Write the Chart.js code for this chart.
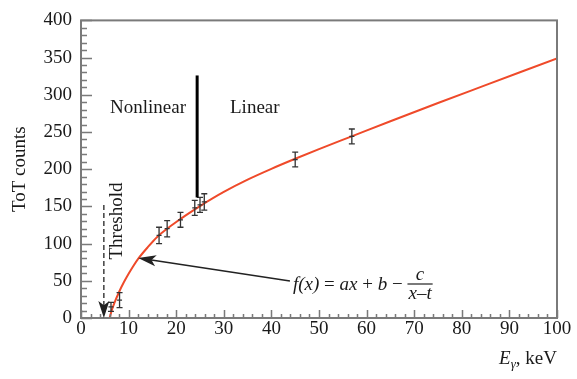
<!DOCTYPE html>
<html>
<head>
<meta charset="utf-8">
<script src="https://cdn.jsdelivr.net/npm/chart.js@4.4.0/dist/chart.umd.min.js"></script>
<style>
  html, body { margin: 0; padding: 0; background: #ffffff; }
  #c { display: block; }
</style>
</head>
<body>
<canvas id="c" width="577" height="379"></canvas>
<script>
// ---- data ----
const energy   = [6.3, 8.1, 16.4, 18.1, 20.9, 23.9, 25.0, 25.9, 45.0, 56.9];   // keV
const counts   = [15, 24, 111, 120, 132, 148, 152, 156, 213, 244];            // ToT counts
const countErr = [6, 10, 11, 11, 10, 10, 10, 11, 10, 10];

// fitted curve f(x) = ax + b - c/(x - t)
const fitX = [6, 6.5, 7, 8, 9, 10, 11, 12, 14, 16, 18, 20, 22, 25, 30, 35, 40, 45, 50, 57, 65, 75, 85, 100];
const fitY = [0, 11, 20, 35, 48, 59.5, 70, 79.5, 95, 109, 119.5, 129, 138, 150.5, 169.5, 186, 200.5, 214, 227, 244.5, 264.5, 289, 313, 349];

const xTicks = [0, 10, 20, 30, 40, 50, 60, 70, 80, 90, 100];
const yTicks = [0, 50, 100, 150, 200, 250, 300, 350, 400];

const FONT = '"Liberation Serif", "DejaVu Serif", serif';
const TXT = '#1a1a1a';
const AXC = '#7a7a7a';

const fitPts = fitX.map((x, i) => ({ x: x, y: fitY[i] }));
const dataPts = energy.map((x, i) => ({ x: x, y: counts[i], e: countErr[i] }));

function drawRun(ctx, parts, x, y, size) {
  for (const p of parts) {
    ctx.font = (p[1] ? 'italic ' : '') + size + 'px ' + FONT;
    ctx.fillText(p[0], x, y);
    x += ctx.measureText(p[0]).width;
  }
  return x;
}
function runWidth(ctx, parts, size) {
  let w = 0;
  for (const p of parts) {
    ctx.font = (p[1] ? 'italic ' : '') + size + 'px ' + FONT;
    w += ctx.measureText(p[0]).width;
  }
  return w;
}
function arrowHead(ctx, x1, y1, x2, y2, len, half) {
  const ang = Math.atan2(y2 - y1, x2 - x1);
  ctx.beginPath();
  ctx.moveTo(x2, y2);
  ctx.lineTo(x2 - len * Math.cos(ang) + half * Math.sin(ang), y2 - len * Math.sin(ang) - half * Math.cos(ang));
  ctx.lineTo(x2 - len * Math.cos(ang) * 0.75, y2 - len * Math.sin(ang) * 0.75);
  ctx.lineTo(x2 - len * Math.cos(ang) - half * Math.sin(ang), y2 - len * Math.sin(ang) + half * Math.cos(ang));
  ctx.closePath();
  ctx.fill();
}

const decor = {
  id: 'decor',
  afterDatasetsDraw(chart) {
    const { ctx, scales: { x, y } } = chart;
    ctx.save();
    // error bars
    ctx.strokeStyle = '#333333';
    ctx.lineWidth = 1.3;
    for (const p of dataPts) {
      const px = x.getPixelForValue(p.x);
      const py = y.getPixelForValue(p.y);
      const pt = y.getPixelForValue(p.y + p.e);
      const pb = y.getPixelForValue(p.y - p.e);
      ctx.beginPath();
      ctx.moveTo(px, pt); ctx.lineTo(px, pb);
      ctx.moveTo(px - 3, pt); ctx.lineTo(px + 3, pt);
      ctx.moveTo(px - 3, pb); ctx.lineTo(px + 3, pb);
      ctx.moveTo(px - 2.5, py); ctx.lineTo(px + 2.5, py);
      ctx.stroke();
    }
    ctx.restore();
  },
  afterDraw(chart) {
    const { ctx, chartArea: a, scales: { x, y } } = chart;
    ctx.save();
    // frame
    ctx.strokeStyle = AXC;
    ctx.lineWidth = 2;
    ctx.strokeRect(a.left, a.top, a.right - a.left, a.bottom - a.top);
    // ticks (inward)
    ctx.lineWidth = 1.5;
    ctx.beginPath();
    for (let v = 0; v <= 400; v += 10) {
      const py = Math.round(y.getPixelForValue(v)) + 0.5;
      const len = (v % 50 === 0) ? 11 : 6;
      ctx.moveTo(a.left, py); ctx.lineTo(a.left + len, py);
    }
    for (let v = 0; v <= 100; v += 2) {
      const px = Math.round(x.getPixelForValue(v)) + 0.5;
      const len = (v % 10 === 0) ? 8 : 4;
      ctx.moveTo(px, a.bottom); ctx.lineTo(px, a.bottom - len);
    }
    ctx.stroke();

    ctx.fillStyle = TXT;
    ctx.strokeStyle = TXT;
    ctx.textBaseline = 'middle';
    ctx.font = '19px ' + FONT;
    // region labels
    ctx.textAlign = 'left';
    ctx.fillText('Nonlinear', 110, 108);
    ctx.fillText('Linear', 230, 108);
    // separating line
    ctx.lineWidth = 3;
    ctx.strokeStyle = '#000000';
    const sx = x.getPixelForValue(24.4);
    ctx.beginPath();
    ctx.moveTo(sx, y.getPixelForValue(326));
    ctx.lineTo(sx, y.getPixelForValue(162));
    ctx.stroke();

    // threshold
    ctx.save();
    ctx.translate(117, 221);
    ctx.rotate(-Math.PI / 2);
    ctx.textAlign = 'center';
    ctx.fillText('Threshold', 0, 0);
    ctx.restore();
    const tx = x.getPixelForValue(4.8);
    const tTop = y.getPixelForValue(152);
    const tTip = y.getPixelForValue(0);
    ctx.strokeStyle = '#333333';
    ctx.fillStyle = '#222222';
    ctx.lineWidth = 1.4;
    ctx.setLineDash([5, 3]);
    ctx.beginPath();
    ctx.moveTo(tx, tTop); ctx.lineTo(tx, tTip - 12);
    ctx.stroke();
    ctx.setLineDash([]);
    arrowHead(ctx, tx, tTop, tx, tTip, 17, 5.5);

    // formula arrow
    const ax1 = x.getPixelForValue(43.9), ay1 = y.getPixelForValue(49.7);
    const ax2 = x.getPixelForValue(12.0), ay2 = y.getPixelForValue(80.5);
    ctx.strokeStyle = '#222222';
    ctx.lineWidth = 1.5;
    ctx.beginPath();
    ctx.moveTo(ax1, ay1); ctx.lineTo(ax2 + 10, ay2 + 1.5);
    ctx.stroke();
    arrowHead(ctx, ax1, ay1, ax2, ay2, 18, 5.5);

    // formula text
    ctx.fillStyle = TXT;
    ctx.textBaseline = 'alphabetic';
    ctx.textAlign = 'left';
    const fx0 = 293, fb = 290;
    let fx = drawRun(ctx, [['f(x)', true], [' = ', false], ['ax', true], [' + ', false], ['b', true], [' \u2212 ', false]], fx0, fb, 19);
    const den = [['x', true], ['\u2013', false], ['t', true]];
    const dw = runWidth(ctx, den, 19);
    const barY = fb - 6;
    ctx.lineWidth = 1.2;
    ctx.beginPath();
    ctx.moveTo(fx, barY); ctx.lineTo(fx + dw + 2, barY);
    ctx.stroke();
    ctx.font = 'italic 19px ' + FONT;
    const cw = ctx.measureText('c').width;
    ctx.fillText('c', fx + (dw + 2 - cw) / 2, barY - 4);
    drawRun(ctx, den, fx + 1, barY + 15, 19);

    // x-axis title
    ctx.font = 'italic 19px ' + FONT;
    const wE = ctx.measureText('E').width;
    ctx.font = 'italic 13px ' + FONT;
    const wg = ctx.measureText('\u03b3').width;
    ctx.font = '19px ' + FONT;
    const wk = ctx.measureText(', keV').width;
    const tx0 = a.right - (wE + wg + wk);
    const tb = 364;
    ctx.font = 'italic 19px ' + FONT;
    ctx.fillText('E', tx0, tb);
    ctx.font = 'italic 13px ' + FONT;
    ctx.fillText('\u03b3', tx0 + wE, tb + 4);
    ctx.font = '19px ' + FONT;
    ctx.fillText(', keV', tx0 + wE + wg, tb);
    ctx.restore();
  }
};

new Chart(document.getElementById('c'), {
  type: 'scatter',
  data: {
    datasets: [
      {
        type: 'line',
        label: 'fit',
        data: fitPts,
        borderColor: '#ef4a2a',
        borderWidth: 2,
        pointRadius: 0,
        fill: false,
        cubicInterpolationMode: 'monotone',
        order: 2
      },
      {
        label: 'measured',
        data: dataPts,
        pointRadius: 0,
        borderColor: '#333333',
        backgroundColor: '#333333',
        order: 1
      }
    ]
  },
  options: {
    responsive: false,
    animation: false,
    devicePixelRatio: 1,
    layout: { padding: { top: 20, right: 20, left: 0, bottom: 0 } },
    plugins: { legend: { display: false }, tooltip: { enabled: false } },
    scales: {
      x: {
        type: 'linear',
        min: 0, max: 100,
        afterBuildTicks(s) { s.ticks = xTicks.map(v => ({ value: v })); },
        ticks: { font: { family: FONT, size: 19 }, color: TXT, padding: 0, maxRotation: 0, autoSkip: false },
        grid: { display: false, drawTicks: false },
        border: { display: false },
        afterFit(s) { s.height = 61; }
      },
      y: {
        type: 'linear',
        min: 0, max: 400,
        afterBuildTicks(s) { s.ticks = yTicks.map(v => ({ value: v })); },
        ticks: { font: { family: FONT, size: 19 }, color: TXT, padding: 9, autoSkip: false },
        grid: { display: false, drawTicks: false },
        border: { display: false },
        title: { display: true, text: 'ToT counts', font: { family: FONT, size: 19 }, color: TXT, padding: { top: 9, bottom: 0 } },
        afterFit(s) { s.width = 81; }
      }
    }
  },
  plugins: [decor]
});
</script>
</body>
</html>
